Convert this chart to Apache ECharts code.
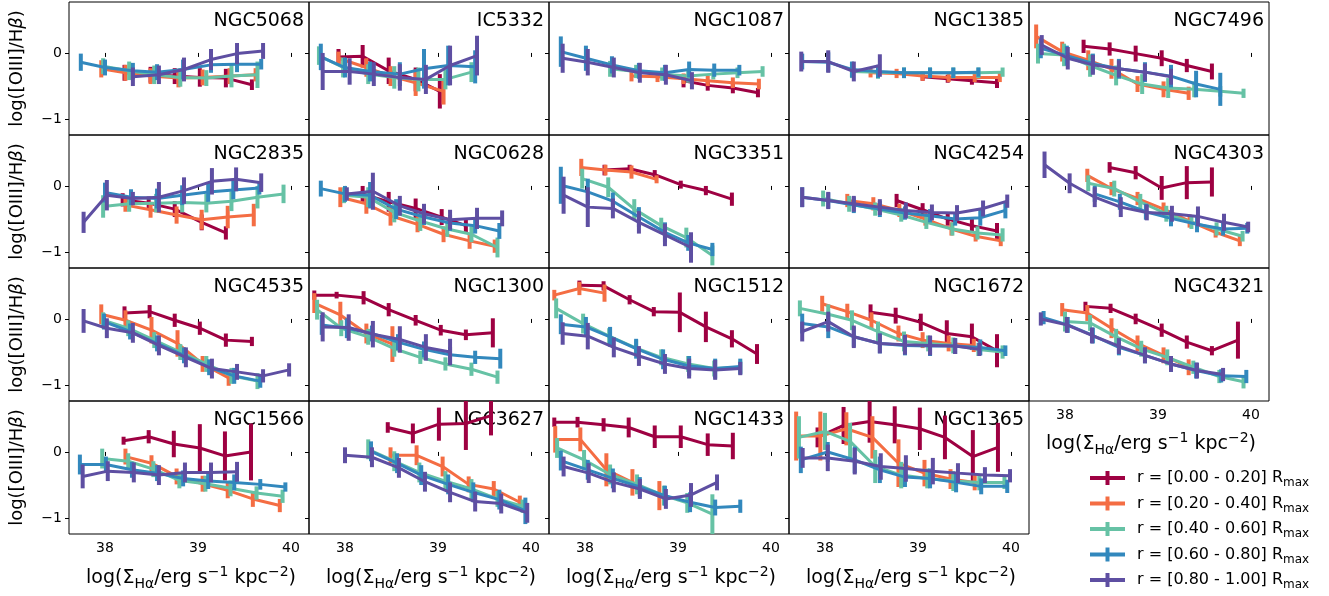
<!DOCTYPE html>
<html><head><meta charset="utf-8">
<script src="https://cdn.jsdelivr.net/npm/echarts@6/dist/echarts.min.js"></script>
<style>html,body{margin:0;padding:0;background:#fff}#c{width:1329px;height:596px}</style>
</head><body><div id="c"></div>
<script>
// ---------- data ----------
const galaxies = ['NGC5068','IC5332','NGC1087','NGC1385','NGC7496',
                  'NGC2835','NGC0628','NGC3351','NGC4254','NGC4303',
                  'NGC4535','NGC1300','NGC1512','NGC1672','NGC4321',
                  'NGC1566','NGC3627','NGC1433','NGC1365'];
const ringLabels = ['[0.00 - 0.20]','[0.20 - 0.40]','[0.40 - 0.60]','[0.60 - 0.80]','[0.80 - 1.00]'];
const ringColors = ['#9e0142','#f46d43','#66c2a5','#3288bd','#5e4fa2'];
const xTicks = [38, 39, 40];
const yTicks = [-1, 0];
// each galaxy: 5 rings (0.0-0.2 ... 0.8-1.0), points [logSigmaHa, log([OIII]/Hb), err]
const NGC5068 = [
 [[38.21,-0.30,0.12],[38.49,-0.33,0.12],[38.75,-0.35,0.12],[39.02,-0.37,0.14],[39.30,-0.38,0.14],[39.58,-0.48,0.08]],
 [[37.96,-0.24,0.13],[38.22,-0.30,0.12],[38.49,-0.35,0.12],[38.79,-0.38,0.14],[39.05,-0.37,0.12],[39.34,-0.35,0.12],[39.62,-0.33,0.1]],
 [[37.98,-0.20,0.12],[38.26,-0.27,0.14],[38.53,-0.33,0.14],[38.81,-0.37,0.14],[39.09,-0.38,0.12],[39.36,-0.35,0.17],[39.64,-0.33,0.2]],
 [[37.74,-0.14,0.13],[38.00,-0.22,0.12],[38.30,-0.27,0.12],[38.56,-0.29,0.12],[38.84,-0.25,0.15],[39.14,-0.18,0.12],[39.42,-0.17,0.12],[39.68,-0.17,0.08]],
 [[38.30,-0.36,0.14],[38.58,-0.33,0.14],[38.85,-0.25,0.18],[39.14,-0.10,0.16],[39.42,-0.01,0.16],[39.70,0.03,0.12]]
];
const IC5332 = [
 [[37.93,-0.06,0.12],[38.19,-0.05,0.17],[38.47,-0.27,0.2],[38.76,-0.40,0.18],[39.02,-0.58,0.26]],
 [[37.93,-0.08,0.1],[38.23,-0.22,0.14],[38.49,-0.35,0.15],[38.76,-0.45,0.2],[39.06,-0.58,0.2]],
 [[37.72,-0.04,0.14],[37.98,-0.22,0.15],[38.25,-0.32,0.15],[38.53,-0.37,0.17],[38.79,-0.40,0.18],[39.08,-0.40,0.15],[39.36,-0.29,0.15]],
 [[37.74,-0.06,0.2],[38.00,-0.22,0.15],[38.27,-0.28,0.15],[38.59,-0.32,0.18],[38.85,-0.24,0.3],[39.11,-0.19,0.3],[39.40,-0.21,0.25]],
 [[37.76,-0.28,0.28],[38.05,-0.28,0.2],[38.31,-0.32,0.18],[38.59,-0.37,0.2],[38.87,-0.40,0.22],[39.13,-0.19,0.3],[39.42,-0.04,0.3]]
];
const NGC1087 = [
 [[39.06,-0.42,0.1],[39.32,-0.49,0.08],[39.59,-0.53,0.08],[39.86,-0.60,0.07]],
 [[38.50,-0.35,0.08],[38.78,-0.36,0.08],[39.06,-0.39,0.08],[39.32,-0.42,0.08],[39.59,-0.45,0.08],[39.87,-0.47,0.08]],
 [[38.27,-0.24,0.12],[38.55,-0.28,0.1],[38.83,-0.32,0.1],[39.11,-0.35,0.1],[39.38,-0.32,0.08],[39.64,-0.30,0.08],[39.91,-0.28,0.08]],
 [[37.74,0.02,0.23],[38.01,-0.08,0.19],[38.29,-0.18,0.13],[38.58,-0.27,0.12],[38.86,-0.30,0.12],[39.12,-0.25,0.12],[39.39,-0.26,0.1],[39.66,-0.26,0.08]],
 [[37.76,-0.08,0.22],[38.03,-0.14,0.2],[38.31,-0.22,0.15],[38.59,-0.30,0.15],[38.87,-0.33,0.15],[39.15,-0.42,0.13]]
];
const NGC1385 = [
 [[39.05,-0.36,0.06],[39.32,-0.39,0.06],[39.58,-0.42,0.06],[39.85,-0.45,0.08]],
 [[38.49,-0.30,0.07],[38.77,-0.31,0.07],[39.05,-0.35,0.07],[39.33,-0.37,0.07],[39.61,-0.37,0.07],[39.88,-0.37,0.07]],
 [[38.29,-0.28,0.1],[38.57,-0.29,0.1],[38.85,-0.30,0.08],[39.13,-0.30,0.08],[39.38,-0.30,0.08],[39.65,-0.30,0.08],[39.91,-0.29,0.07]],
 [[37.755,-0.13,0.12],[38.035,-0.14,0.15],[38.29,-0.25,0.12],[38.57,-0.28,0.1],[38.85,-0.30,0.08],[39.13,-0.30,0.08],[39.38,-0.30,0.08],[39.65,-0.29,0.07]],
 [[37.745,-0.13,0.15],[38.035,-0.13,0.17],[38.31,-0.28,0.15],[38.59,-0.19,0.17]]
];
const NGC7496 = [
 [[38.20,0.10,0.1],[38.48,0.06,0.1],[38.76,-0.01,0.12],[39.04,-0.08,0.12],[39.31,-0.19,0.1],[39.58,-0.28,0.12]],
 [[37.69,0.25,0.18],[37.97,0.02,0.15],[38.25,-0.11,0.15],[38.50,-0.24,0.15],[38.78,-0.47,0.12],[39.06,-0.55,0.12],[39.33,-0.61,0.1]],
 [[37.71,-0.01,0.15],[37.99,-0.03,0.17],[38.27,-0.19,0.17],[38.55,-0.34,0.15],[38.83,-0.47,0.15],[39.11,-0.53,0.15],[39.39,-0.55,0.12],[39.67,-0.58,0.08],[39.92,-0.61,0.07]],
 [[37.74,0.07,0.15],[38.02,-0.04,0.15],[38.30,-0.16,0.15],[38.58,-0.24,0.15],[38.86,-0.29,0.15],[39.14,-0.35,0.17],[39.41,-0.47,0.2],[39.67,-0.55,0.25]],
 [[37.75,0.12,0.15],[38.03,-0.08,0.17],[38.30,-0.18,0.15],[38.58,-0.24,0.13],[38.86,-0.29,0.13],[39.14,-0.36,0.12]]
];
const NGC2835 = [
 [[38.19,-0.21,0.1],[38.47,-0.26,0.1],[38.75,-0.35,0.12],[39.04,-0.55,0.12],[39.30,-0.71,0.1]],
 [[38.22,-0.29,0.1],[38.49,-0.36,0.12],[38.77,-0.44,0.13],[39.04,-0.51,0.15],[39.32,-0.47,0.17],[39.60,-0.44,0.17]],
 [[37.98,-0.31,0.17],[38.26,-0.27,0.12],[38.55,-0.26,0.14],[38.83,-0.25,0.15],[39.09,-0.26,0.14],[39.36,-0.23,0.15],[39.64,-0.17,0.17],[39.92,-0.12,0.14]],
 [[38.00,-0.10,0.15],[38.28,-0.17,0.12],[38.56,-0.19,0.15],[38.83,-0.14,0.15],[39.11,-0.09,0.15],[39.38,-0.06,0.14],[39.66,-0.03,0.1]],
 [[37.77,-0.55,0.16],[38.02,-0.14,0.23],[38.30,-0.19,0.1],[38.58,-0.17,0.23],[38.85,-0.07,0.2],[39.15,0.07,0.2],[39.41,0.10,0.18],[39.68,0.05,0.14]]
];
const NGC0628 = [
 [[38.19,-0.12,0.12],[38.47,-0.24,0.15],[38.76,-0.34,0.15],[39.04,-0.47,0.12],[39.30,-0.60,0.1]],
 [[37.95,-0.17,0.15],[38.23,-0.27,0.15],[38.49,-0.45,0.15],[38.78,-0.58,0.12],[39.06,-0.73,0.12],[39.34,-0.83,0.12],[39.61,-0.91,0.1]],
 [[37.99,-0.14,0.12],[38.25,-0.17,0.15],[38.53,-0.40,0.15],[38.81,-0.53,0.15],[39.10,-0.65,0.12],[39.36,-0.73,0.12],[39.64,-0.93,0.15]],
 [[37.74,-0.04,0.12],[38.00,-0.12,0.12],[38.27,-0.14,0.2],[38.55,-0.35,0.15],[38.85,-0.47,0.12],[39.13,-0.56,0.12],[39.40,-0.60,0.12],[39.66,-0.68,0.12]],
 [[38.02,-0.12,0.1],[38.30,-0.08,0.28],[38.59,-0.30,0.15],[38.85,-0.42,0.15],[39.13,-0.51,0.15],[39.42,-0.49,0.16],[39.69,-0.49,0.12]]
];
const NGC3351 = [
 [[38.21,0.24,0.08],[38.48,0.26,0.06],[38.75,0.17,0.07],[39.03,0.02,0.06],[39.30,-0.07,0.07],[39.58,-0.20,0.1]],
 [[37.96,0.28,0.13],[38.22,0.24,0.08],[38.50,0.21,0.1],[38.77,0.10,0.06]],
 [[37.97,0.11,0.15],[38.25,-0.02,0.15],[38.53,-0.35,0.15],[38.82,-0.60,0.12],[39.09,-0.78,0.15],[39.37,-1.05,0.15]],
 [[37.74,0.01,0.28],[38.03,-0.09,0.2],[38.30,-0.23,0.13],[38.58,-0.47,0.15],[38.86,-0.70,0.15],[39.11,-0.86,0.12],[39.37,-0.96,0.1]],
 [[37.77,-0.14,0.28],[38.03,-0.32,0.3],[38.30,-0.34,0.15],[38.58,-0.55,0.17],[38.86,-0.74,0.17],[39.14,-0.93,0.23]]
];
const NGC4254 = [
 [[38.77,-0.22,0.1],[39.05,-0.36,0.1],[39.32,-0.50,0.1],[39.58,-0.60,0.1],[39.85,-0.68,0.12]],
 [[38.24,-0.22,0.1],[38.52,-0.27,0.1],[38.80,-0.37,0.1],[39.08,-0.50,0.1],[39.36,-0.65,0.1],[39.62,-0.76,0.08],[39.89,-0.83,0.08]],
 [[37.98,-0.19,0.12],[38.26,-0.27,0.12],[38.54,-0.35,0.1],[38.82,-0.44,0.1],[39.09,-0.55,0.1],[39.37,-0.65,0.1],[39.64,-0.71,0.1],[39.91,-0.74,0.1]],
 [[37.755,-0.17,0.15],[38.035,-0.22,0.12],[38.31,-0.29,0.12],[38.59,-0.35,0.12],[38.86,-0.41,0.1],[39.13,-0.45,0.1],[39.40,-0.50,0.1],[39.67,-0.48,0.12],[39.94,-0.37,0.12]],
 [[37.755,-0.17,0.15],[38.035,-0.22,0.13],[38.31,-0.27,0.12],[38.59,-0.32,0.12],[38.87,-0.37,0.12],[39.15,-0.40,0.12],[39.42,-0.41,0.12],[39.70,-0.34,0.12],[39.96,-0.23,0.1]]
];
const NGC4303 = [
 [[38.48,0.28,0.08],[38.76,0.20,0.1],[39.04,-0.03,0.18],[39.31,0.05,0.25],[39.58,0.06,0.22]],
 [[38.24,0.16,0.1],[38.50,-0.04,0.1],[38.78,-0.19,0.1],[39.06,-0.35,0.1],[39.34,-0.53,0.1],[39.62,-0.70,0.08],[39.88,-0.83,0.08]],
 [[38.25,0.04,0.12],[38.53,-0.04,0.12],[38.81,-0.24,0.12],[39.09,-0.42,0.12],[39.36,-0.55,0.1],[39.63,-0.65,0.1],[39.91,-0.76,0.08]],
 [[38.32,-0.12,0.12],[38.59,-0.24,0.12],[38.87,-0.39,0.12],[39.14,-0.49,0.12],[39.42,-0.58,0.12],[39.70,-0.65,0.1],[39.96,-0.64,0.08]],
 [[37.78,0.32,0.2],[38.05,0.04,0.15],[38.32,-0.17,0.15],[38.60,-0.32,0.15],[38.88,-0.40,0.12],[39.15,-0.42,0.12],[39.43,-0.46,0.15],[39.71,-0.55,0.13],[39.97,-0.62,0.08]]
];
const NGC4535 = [
 [[38.21,0.09,0.1],[38.48,0.11,0.1],[38.75,-0.02,0.1],[39.02,-0.14,0.1],[39.30,-0.32,0.1],[39.58,-0.34,0.07]],
 [[37.96,0.07,0.15],[38.22,-0.02,0.15],[38.50,-0.17,0.2],[38.78,-0.37,0.2],[39.05,-0.68,0.12],[39.33,-0.89,0.12]],
 [[37.98,-0.02,0.12],[38.25,-0.14,0.12],[38.53,-0.32,0.12],[38.81,-0.50,0.12],[39.09,-0.68,0.12],[39.36,-0.86,0.12],[39.64,-0.94,0.12]],
 [[37.99,-0.04,0.12],[38.27,-0.19,0.12],[38.56,-0.37,0.12],[38.85,-0.55,0.12],[39.12,-0.73,0.12],[39.39,-0.86,0.12],[39.67,-0.94,0.1]],
 [[37.77,-0.03,0.18],[38.02,-0.14,0.15],[38.30,-0.21,0.15],[38.58,-0.40,0.15],[38.87,-0.58,0.15],[39.15,-0.75,0.15],[39.42,-0.80,0.12],[39.70,-0.86,0.1],[39.98,-0.77,0.1]]
];
const NGC1300 = [
 [[37.67,0.36,0.07],[37.91,0.36,0.05],[38.20,0.32,0.1],[38.47,0.14,0.1],[38.76,-0.02,0.08],[39.03,-0.17,0.08],[39.30,-0.24,0.08],[39.59,-0.21,0.22]],
 [[37.67,0.24,0.15],[37.95,0.06,0.2],[38.23,-0.22,0.15],[38.51,-0.38,0.27]],
 [[37.70,0.14,0.15],[37.96,-0.14,0.12],[38.25,-0.27,0.12],[38.53,-0.45,0.12],[38.81,-0.58,0.1],[39.08,-0.68,0.1],[39.36,-0.76,0.1],[39.64,-0.88,0.1]],
 [[37.75,-0.09,0.15],[38.02,-0.14,0.15],[38.29,-0.22,0.12],[38.57,-0.35,0.12],[38.85,-0.46,0.12],[39.13,-0.54,0.12],[39.40,-0.58,0.1],[39.67,-0.60,0.15]],
 [[37.76,-0.12,0.22],[38.04,-0.13,0.2],[38.30,-0.23,0.2],[38.59,-0.31,0.2],[38.87,-0.43,0.2],[39.13,-0.50,0.2]]
];
const NGC1512 = [
 [[37.94,0.51,0.07],[38.20,0.50,0.07],[38.48,0.29,0.07],[38.74,0.11,0.07],[39.02,0.10,0.3],[39.30,-0.12,0.23],[39.58,-0.30,0.13],[39.85,-0.53,0.15]],
 [[37.67,0.36,0.08],[37.94,0.46,0.1],[38.21,0.39,0.13]],
 [[37.69,0.16,0.15],[37.98,-0.07,0.15],[38.26,-0.26,0.12],[38.55,-0.44,0.12],[38.82,-0.58,0.12],[39.11,-0.68,0.12],[39.39,-0.75,0.12],[39.67,-0.73,0.1]],
 [[37.74,-0.08,0.15],[38.01,-0.12,0.15],[38.27,-0.27,0.15],[38.55,-0.45,0.15],[38.84,-0.61,0.15],[39.12,-0.71,0.15],[39.40,-0.75,0.15],[39.67,-0.72,0.12]],
 [[37.76,-0.22,0.17],[38.03,-0.26,0.2],[38.31,-0.43,0.15],[38.58,-0.56,0.15],[38.86,-0.68,0.15],[39.12,-0.75,0.15],[39.40,-0.77,0.15],[39.67,-0.75,0.1]]
];
const NGC1672 = [
 [[38.49,0.10,0.12],[38.76,0.05,0.12],[39.03,-0.05,0.13],[39.31,-0.22,0.2],[39.58,-0.27,0.2],[39.85,-0.48,0.25]],
 [[37.97,0.23,0.12],[38.24,0.11,0.12],[38.50,-0.02,0.12],[38.79,-0.22,0.12],[39.05,-0.32,0.12],[39.33,-0.37,0.12],[39.60,-0.40,0.1]],
 [[37.73,0.16,0.12],[38.035,0.07,0.15],[38.29,-0.02,0.15],[38.57,-0.19,0.15],[38.85,-0.34,0.15],[39.11,-0.37,0.12],[39.38,-0.40,0.12],[39.65,-0.46,0.1],[39.91,-0.50,0.1]],
 [[37.755,-0.07,0.15],[38.035,-0.12,0.17],[38.31,-0.27,0.15],[38.59,-0.37,0.15],[38.86,-0.40,0.15],[39.13,-0.41,0.15],[39.40,-0.41,0.12],[39.67,-0.43,0.12],[39.94,-0.48,0.08]],
 [[37.755,-0.19,0.15],[38.035,-0.04,0.15],[38.31,-0.27,0.17],[38.59,-0.37,0.15],[38.86,-0.39,0.15],[39.13,-0.40,0.15],[39.40,-0.41,0.12],[39.66,-0.46,0.1]]
];
const NGC4321 = [
 [[38.22,0.19,0.07],[38.49,0.16,0.07],[38.76,0.00,0.08],[39.04,-0.17,0.1],[39.31,-0.35,0.1],[39.58,-0.48,0.07],[39.86,-0.32,0.28]],
 [[37.97,0.14,0.1],[38.24,0.09,0.12],[38.50,-0.14,0.15],[38.78,-0.37,0.12],[39.06,-0.55,0.12],[39.33,-0.73,0.12]],
 [[38.00,-0.04,0.15],[38.27,-0.06,0.12],[38.55,-0.27,0.12],[38.82,-0.45,0.12],[39.10,-0.58,0.12],[39.38,-0.73,0.1],[39.66,-0.87,0.1],[39.92,-0.95,0.1]],
 [[37.77,0.02,0.1],[38.03,-0.09,0.12],[38.30,-0.25,0.12],[38.58,-0.43,0.12],[38.86,-0.55,0.12],[39.14,-0.68,0.12],[39.41,-0.78,0.12],[39.68,-0.86,0.1],[39.95,-0.87,0.1]],
 [[37.74,0.00,0.1],[38.02,-0.09,0.12],[38.29,-0.25,0.12],[38.58,-0.41,0.12],[38.86,-0.55,0.12],[39.14,-0.68,0.12],[39.42,-0.78,0.12],[39.70,-0.84,0.1]]
];
const NGC1566 = [
 [[38.20,0.17,0.06],[38.47,0.23,0.1],[38.74,0.12,0.2],[39.02,0.06,0.36],[39.29,-0.06,0.37],[39.57,0.00,0.43]],
 [[38.22,-0.07,0.12],[38.50,-0.17,0.12],[38.77,-0.37,0.12],[39.05,-0.48,0.12],[39.32,-0.58,0.12],[39.59,-0.71,0.12],[39.88,-0.81,0.1]],
 [[37.97,-0.10,0.15],[38.25,-0.14,0.12],[38.52,-0.26,0.12],[38.80,-0.43,0.12],[39.08,-0.48,0.12],[39.35,-0.55,0.12],[39.63,-0.62,0.1],[39.91,-0.67,0.1]],
 [[37.73,-0.19,0.15],[38.01,-0.19,0.12],[38.29,-0.27,0.12],[38.56,-0.32,0.12],[38.84,-0.40,0.12],[39.11,-0.44,0.12],[39.39,-0.46,0.12],[39.67,-0.49,0.08],[39.94,-0.53,0.07]],
 [[37.76,-0.37,0.18],[38.03,-0.29,0.15],[38.31,-0.31,0.15],[38.58,-0.35,0.15],[38.86,-0.31,0.15],[39.14,-0.31,0.15],[39.42,-0.30,0.15]]
];
const NGC3627 = [
 [[38.46,0.37,0.08],[38.73,0.28,0.15],[39.01,0.42,0.25],[39.30,0.43,0.4],[39.57,0.55,0.3]],
 [[38.49,-0.05,0.12],[38.77,-0.05,0.15],[39.05,-0.22,0.15],[39.33,-0.49,0.12],[39.60,-0.56,0.12],[39.88,-0.76,0.1]],
 [[38.25,0.04,0.15],[38.53,-0.14,0.15],[38.80,-0.31,0.15],[39.08,-0.44,0.15],[39.36,-0.56,0.15],[39.64,-0.71,0.12],[39.91,-0.82,0.1]],
 [[38.28,0.01,0.15],[38.56,-0.17,0.15],[38.82,-0.35,0.15],[39.11,-0.49,0.15],[39.38,-0.61,0.15],[39.66,-0.72,0.15],[39.94,-0.89,0.2]],
 [[38.00,-0.05,0.12],[38.29,-0.08,0.15],[38.58,-0.24,0.15],[38.86,-0.45,0.15],[39.13,-0.61,0.15],[39.40,-0.75,0.15],[39.68,-0.78,0.15],[39.96,-0.92,0.15]]
];
const NGC1433 = [
 [[37.67,0.45,0.07],[37.92,0.45,0.08],[38.20,0.41,0.1],[38.47,0.37,0.15],[38.75,0.23,0.17],[39.03,0.23,0.17],[39.32,0.11,0.17],[39.59,0.09,0.2]],
 [[37.68,0.19,0.2],[37.95,0.19,0.18],[38.23,-0.27,0.25],[38.51,-0.46,0.2],[38.80,-0.66,0.22]],
 [[37.70,0.06,0.15],[37.99,-0.12,0.15],[38.27,-0.34,0.15],[38.56,-0.49,0.15],[38.85,-0.66,0.15],[39.10,-0.77,0.15],[39.37,-0.94,0.3]],
 [[37.74,-0.13,0.15],[38.03,-0.27,0.15],[38.30,-0.40,0.15],[38.59,-0.53,0.15],[38.86,-0.66,0.15],[39.13,-0.76,0.15],[39.40,-0.84,0.12],[39.67,-0.82,0.1]],
 [[37.77,-0.22,0.15],[38.04,-0.32,0.15],[38.31,-0.46,0.15],[38.59,-0.56,0.15],[38.87,-0.71,0.15],[39.14,-0.65,0.18],[39.42,-0.46,0.12]]
];
const NGC1365 = [
 [[37.92,0.22,0.15],[38.20,0.40,0.28],[38.48,0.46,0.32],[38.75,0.41,0.28],[39.02,0.35,0.32],[39.29,0.22,0.33],[39.59,-0.07,0.4],[39.86,0.07,0.37]],
 [[37.69,0.24,0.37],[37.95,0.24,0.37],[38.23,0.35,0.25],[38.51,0.22,0.32],[38.79,-0.17,0.36],[39.07,-0.32,0.2],[39.35,-0.41,0.15],[39.61,-0.46,0.12]],
 [[37.72,0.22,0.32],[38.00,0.31,0.28],[38.27,0.16,0.28],[38.54,-0.22,0.25],[38.82,-0.35,0.2],[39.10,-0.40,0.15],[39.38,-0.44,0.15],[39.66,-0.46,0.12],[39.93,-0.46,0.1]],
 [[37.74,-0.12,0.2],[38.03,0.00,0.15],[38.32,-0.12,0.2],[38.59,-0.27,0.2],[38.86,-0.38,0.15],[39.13,-0.40,0.15],[39.41,-0.46,0.15],[39.68,-0.52,0.12],[39.96,-0.52,0.1]],
 [[37.76,-0.09,0.15],[38.03,-0.09,0.2],[38.32,-0.14,0.2],[38.60,-0.22,0.2],[38.87,-0.25,0.2],[39.16,-0.29,0.2],[39.43,-0.32,0.15],[39.72,-0.35,0.12],[39.99,-0.36,0.1]]
];
const panelData = [NGC5068, IC5332, NGC1087, NGC1385, NGC7496,
                   NGC2835, NGC0628, NGC3351, NGC4254, NGC4303,
                   NGC4535, NGC1300, NGC1512, NGC1672, NGC4321,
                   NGC1566, NGC3627, NGC1433, NGC1365];

// ---------- layout ----------
const FONT = 'DejaVu Sans';
const L0 = 69, T0 = 2, PW = 240, PH = 133;
const XMIN = 37.613, XMAX = 40.194, YMIN = -1.24, YMAX = 0.77;
const LINE_W = 3, ERR_W = 4;
const fmtNum = v => (v < 0 ? '\u2212' + Math.abs(v) : String(v));

const grids = [], xAxes = [], yAxes = [], series = [], graphics = [];
galaxies.forEach((name, i) => {
  const row = Math.floor(i / 5), col = i % 5;
  const left = L0 + col * PW, top = T0 + row * PH;
  const showX = (row === 3) || (row === 2 && col === 4);
  grids.push({left, top, width: PW, height: PH, show: true, borderColor: '#000', borderWidth: 1, backgroundColor: 'rgba(0,0,0,0)', containLabel: false});
  xAxes.push({gridIndex: i, type: 'value', min: XMIN, max: XMAX,
    axisLine: {show: false}, splitLine: {show: false},
    axisTick: {show: true, length: 4, customValues: xTicks, lineStyle: {color: '#000', width: 1}},
    axisLabel: {show: showX, customValues: xTicks, fontSize: 14, color: '#000', fontFamily: FONT, margin: 7}});
  yAxes.push({gridIndex: i, type: 'value', min: YMIN, max: YMAX,
    axisLine: {show: false}, splitLine: {show: false},
    axisTick: {show: true, length: 4, customValues: yTicks, lineStyle: {color: '#000', width: 1}},
    axisLabel: {show: col === 0, customValues: yTicks, fontSize: 14, color: '#000', fontFamily: FONT, margin: 7, formatter: fmtNum}});
  panelData[i].forEach((pts, r) => {
    const color = ringColors[r];
    series.push({type: 'line', xAxisIndex: i, yAxisIndex: i, data: pts.map(p => [p[0], p[1]]),
      symbol: 'none', lineStyle: {color, width: LINE_W}, z: 3 + r, silent: true, animation: false, clip: true});
    series.push({type: 'custom', xAxisIndex: i, yAxisIndex: i, data: pts, z: 3 + r, silent: true, animation: false, clip: true,
      encode: {x: 0, y: 1},
      renderItem: (params, api) => {
        const x = api.value(0), y = api.value(1), e = api.value(2);
        const a = api.coord([x, y + e]), b = api.coord([x, y - e]);
        return {type: 'line', shape: {x1: a[0], y1: a[1], x2: b[0], y2: b[1]}, style: {stroke: color, lineWidth: ERR_W}};
      }});
  });
  graphics.push({type: 'text', x: left + PW - 5, y: top + 19, z: 1,
    style: {text: name, fontSize: 19, fontFamily: FONT, fill: '#000', textAlign: 'right', textVerticalAlign: 'middle'}});
});

// y labels
for (let row = 0; row < 4; row++) {
  graphics.push({type: 'text', x: 17, y: T0 + row * PH + PH / 2, rotation: Math.PI / 2,
    style: {text: 'log([OIII]/H{it|\u03b2})', fontSize: 18, fontFamily: FONT, fill: '#000', textAlign: 'center', textVerticalAlign: 'middle',
      rich: {it: {fontStyle: 'italic', fontSize: 18, fontFamily: FONT, fill: '#000'}}}});
}
// x labels
const xLabelText = '{n|log(\u03a3}{sub|H\u03b1}{n|/erg s}{sup|\u22121}{n| kpc}{sup|\u22122}{n|)}';
const xLabelRich = {
  n: {fontSize: 19, fontFamily: FONT, fill: '#000', lineHeight: 26},
  sub: {fontSize: 14, fontFamily: FONT, fill: '#000', lineHeight: 14, verticalAlign: 'bottom'},
  sup: {fontSize: 14, fontFamily: FONT, fill: '#000', lineHeight: 14, verticalAlign: 'top'}
};
const xLabelPos = [[0, 578], [1, 578], [2, 578], [3, 578], [4, 444]];
xLabelPos.forEach(([c, y]) => {
  graphics.push({type: 'text', x: L0 + c * PW + PW / 2 + 2, y,
    style: {text: xLabelText, rich: xLabelRich, textAlign: 'center', textVerticalAlign: 'middle'}});
});
// legend
ringLabels.forEach((lab, r) => {
  const y = 478 + r * 25.5, c = ringColors[r];
  graphics.push({type: 'line', shape: {x1: 1090, y1: y, x2: 1125, y2: y}, style: {stroke: c, lineWidth: ERR_W}});
  graphics.push({type: 'line', shape: {x1: 1107.5, y1: y - 7, x2: 1107.5, y2: y + 7}, style: {stroke: c, lineWidth: ERR_W}});
  graphics.push({type: 'text', x: 1137, y: y,
    style: {text: '{n|r = ' + lab + ' R}{sub|max}', textAlign: 'left', textVerticalAlign: 'middle',
      rich: {n: {fontSize: 16, fontFamily: FONT, fill: '#000', lineHeight: 22},
             sub: {fontSize: 12, fontFamily: FONT, fill: '#000', lineHeight: 12, verticalAlign: 'bottom'}}}});
});

const chart = echarts.init(document.getElementById('c'), null, {renderer: 'canvas'});
chart.setOption({animation: false, backgroundColor: '#fff', grid: grids, xAxis: xAxes, yAxis: yAxes, series, graphic: graphics});
</script></body></html>
